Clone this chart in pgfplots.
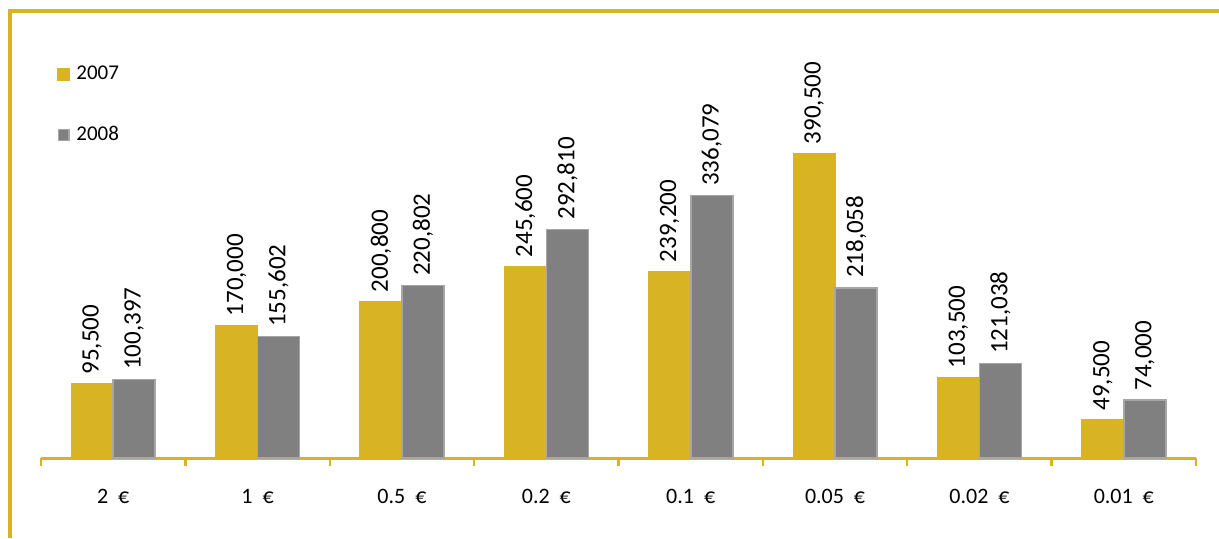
\documentclass[border=0pt]{standalone}
\usepackage{pgfplots}
\pgfplotsset{compat=1.18}
\usepackage{fontspec}
\setmainfont{Carlito}
\definecolor{gold}{RGB}{216,180,37}
\definecolor{barg}{RGB}{128,128,128}
\definecolor{bargb}{RGB}{166,166,166}
\begin{document}
\begin{tikzpicture}
\useasboundingbox (0pt,0pt) rectangle (609.5pt,269pt);
\draw[gold, line width=2pt] (4pt,263.5pt) -- (609.5pt,263.5pt);
\draw[gold, line width=2pt] (5pt,264pt) -- (5pt,0pt);
\begin{axis}[
  at={(56.6pt,40pt)}, anchor=origin,
  scale only axis, width=577.5pt, height=219pt,
  xmin=-0.5, xmax=7.5, ymin=0, ymax=561000,
  axis y line=none, axis x line*=bottom,
  x axis line style={gold, line width=1.5pt, -},
  ybar=0pt, bar width=21pt,
  xtick={0,...,7},
  xticklabels={2\ \ €,1\ \ €,0.5\ \ €,0.2\ \ €,0.1\ \ €,0.05\ \ €,0.02\ \ €,0.01\ \ €},
  major tick length=0pt,
  minor xtick={-0.5,0.5,...,7.5},
  minor tick length=4pt,
  every minor tick/.style={gold, line width=1.2pt},
  xtick pos=bottom, tick align=outside,
  xticklabel style={font=\fontsize{11}{13}\selectfont, yshift=-12pt},
  clip=false,
  nodes near coords,
  every node near coord/.append style={font=\fontsize{12.5}{14}\selectfont, rotate=90, anchor=west, inner sep=0pt, xshift=4.5pt},
  /pgf/number format/.cd, fixed, precision=0, 1000 sep={,}, assume math mode=true,
  /pgfplots/.cd,
  legend style={at={(rel axis cs:0.014,0.903)}, anchor=north west, draw=none, fill=none,
    font=\fontsize{10.5}{12}\selectfont, row sep=19pt, inner sep=0pt,
    nodes={inner sep=1.5pt}},
  legend cell align=left,
]
\addplot[fill=gold, draw=gold, line width=0pt,
  legend image code/.code={\fill[gold] (0pt,-3pt) rectangle (6pt,3pt); \path (7.5pt,0pt);}]
  coordinates {(0,95500) (1,170000) (2,200800) (3,245600) (4,239200) (5,390500) (6,103500) (7,49500)};
\addplot[fill=barg, draw=bargb, line width=0.8pt,
  legend image code/.code={\draw[fill=barg, draw=bargb, line width=0.6pt] (0.3pt,-2.7pt) rectangle (5.7pt,2.7pt); \path (7.5pt,0pt);}]
  coordinates {(0,100397) (1,155602) (2,220802) (3,292810) (4,336079) (5,218058) (6,121038) (7,74000)};
\legend{2007,2008}
\end{axis}
\end{tikzpicture}
\end{document}
